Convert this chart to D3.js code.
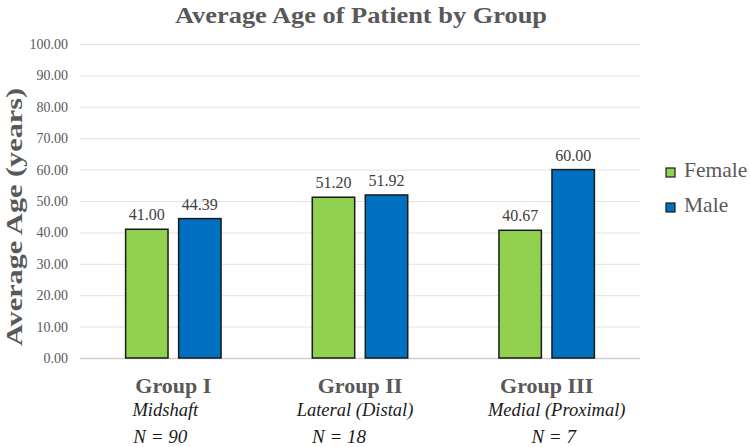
<!DOCTYPE html>
<html>
<head>
<meta charset="utf-8">
<script src="https://cdn.jsdelivr.net/npm/d3@7"></script>
</head>
<body style="margin:0">
<div id="chart"></div>
<script>
// data
var groups = ["Group I", "Group II", "Group III"];
var regions = ["Midshaft", "Lateral (Distal)", "Medial (Proximal)"];
var counts = ["N = 90", "N = 18", "N = 7"];
var series = ["Female", "Male"];
var female = [41.00, 51.20, 40.67];
var male = [44.39, 51.92, 60.00];
var yTicks = [0, 10, 20, 30, 40, 50, 60, 70, 80, 90, 100];
var colors = ["#92D050", "#0070C0"];

var FONT = "'Liberation Serif', 'Times New Roman', serif";

function chart() {
  var w = 750;
  var h = 447;
  var left = 80, right = 640, top = 44, bottom = 358;

  var svg = d3.select("#chart")
              .append("svg")
              .attr("width", w)
              .attr("height", h)
              .style("font-family", FONT);

  var x = d3.scaleBand()
            .domain(groups)
            .range([left, right]);

  var xs = d3.scaleBand()
             .domain(series)
             .range([0, x.bandwidth()])
             .paddingInner(0.2)
             .paddingOuter(0.86);

  var y = d3.scaleLinear()
            .domain([0, 100])
            .range([bottom, top]);

  // gridlines
  svg.append("g")
     .selectAll("line")
     .data(yTicks)
     .enter()
     .append("line")
     .attr("x1", left)
     .attr("x2", right)
     .attr("y1", function(d) { return y(d) + 0.5; })
     .attr("y2", function(d) { return y(d) + 0.5; })
     .attr("stroke", function(d) { return d === 0 ? "#d0d0d0" : "#e3e3e3"; })
     .attr("stroke-width", function(d) { return d === 0 ? 1.5 : 1; });

  // y axis labels
  var yAxis = d3.axisLeft(y)
                .tickValues(yTicks)
                .tickFormat(d3.format(".2f"))
                .tickSize(0)
                .tickPadding(12);
  var ya = svg.append("g")
              .attr("transform", "translate(" + left + ",0)")
              .call(yAxis)
              .attr("font-family", null)
              .attr("font-size", null);
  ya.select(".domain").remove();
  ya.selectAll("text")
    .style("font-family", FONT)
    .style("font-size", "14px")
    .attr("fill", "#595959");

  // bars
  var rows = groups.map(function(g, i) {
    return [{g: g, s: "Female", v: female[i]}, {g: g, s: "Male", v: male[i]}];
  });
  var flat = [].concat.apply([], rows);

  svg.append("g")
     .selectAll("rect")
     .data(flat)
     .enter()
     .append("rect")
     .attr("x", function(d) { return x(d.g) + xs(d.s); })
     .attr("y", function(d) { return y(d.v); })
     .attr("width", xs.bandwidth())
     .attr("height", function(d) { return y(0) - y(d.v); })
     .attr("fill", function(d) { return colors[series.indexOf(d.s)]; })
     .attr("stroke", "#1a1a1a")
     .attr("stroke-width", 1.5);

  // value labels
  svg.append("g")
     .selectAll("text")
     .data(flat)
     .enter()
     .append("text")
     .attr("x", function(d) { return x(d.g) + xs(d.s) + xs.bandwidth() / 2; })
     .attr("y", function(d) { return y(d.v) - 9; })
     .attr("text-anchor", "middle")
     .style("font-family", FONT)
     .style("font-size", "16px")
     .attr("fill", "#404040")
     .text(function(d) { return d.v.toFixed(2); });

  // category labels (the sub lines sit a little off-centre in the original)
  var subShift = [-8, -5, 10];
  var nShift = [-13, -21, 7];
  var cat = svg.append("g")
               .selectAll("g")
               .data(groups)
               .enter()
               .append("g")
               .attr("transform", function(d) { return "translate(" + (x(d) + x.bandwidth() / 2) + ",0)"; });
  cat.append("text")
     .attr("y", 393)
     .attr("text-anchor", "middle")
     .style("font-family", FONT)
     .style("font-size", "22px")
     .style("font-weight", "bold")
     .attr("fill", "#595959")
     .text(function(d) { return d; });
  cat.append("text")
     .attr("x", function(d, i) { return subShift[i]; })
     .attr("y", 416)
     .attr("text-anchor", "middle")
     .style("font-family", FONT)
     .style("font-size", "18.5px")
     .style("font-style", "italic")
     .attr("fill", "#1a1a1a")
     .text(function(d, i) { return regions[i]; });
  cat.append("text")
     .attr("x", function(d, i) { return nShift[i]; })
     .attr("y", 443)
     .attr("text-anchor", "middle")
     .style("font-family", FONT)
     .style("font-size", "19px")
     .style("font-style", "italic")
     .attr("fill", "#1a1a1a")
     .text(function(d, i) { return counts[i]; });

  // title (the original is a little stretched sideways)
  svg.append("text")
     .attr("x", 361)
     .attr("y", 23)
     .attr("text-anchor", "middle")
     .attr("textLength", 372)
     .attr("lengthAdjust", "spacingAndGlyphs")
     .style("font-family", FONT)
     .style("font-size", "24px")
     .style("font-weight", "bold")
     .attr("fill", "#595959")
     .text("Average Age of Patient by Group");

  // y axis title
  svg.append("text")
     .attr("transform", "translate(22,217) rotate(-90)")
     .attr("text-anchor", "middle")
     .attr("textLength", 258)
     .attr("lengthAdjust", "spacingAndGlyphs")
     .style("font-family", FONT)
     .style("font-size", "24px")
     .style("font-weight", "bold")
     .attr("fill", "#595959")
     .text("Average Age (years)");

  // legend
  var legend = svg.append("g")
                  .selectAll("g")
                  .data(series)
                  .enter()
                  .append("g")
                  .attr("transform", function(d, i) { return "translate(666," + (168 + i * 35) + ")"; });
  legend.append("rect")
        .attr("width", 9)
        .attr("height", 9)
        .attr("fill", function(d, i) { return colors[i]; })
        .attr("stroke", "#1a1a1a")
        .attr("stroke-width", 1.2);
  legend.append("text")
        .attr("x", 18)
        .attr("y", 9)
        .style("font-family", FONT)
        .style("font-size", "21.5px")
        .attr("fill", "#595959")
        .text(function(d) { return d; });
}

window.onload = function() {
  chart();
};
</script>
</body>
</html>
